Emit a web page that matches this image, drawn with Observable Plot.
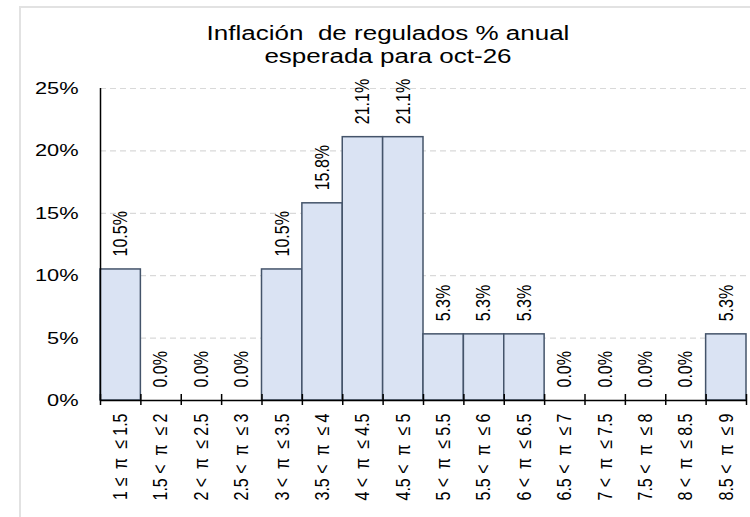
<!DOCTYPE html>
<html>
<head>
<meta charset="utf-8">
<script src="https://cdn.jsdelivr.net/npm/d3@7"></script>
<script src="https://cdn.jsdelivr.net/npm/@observablehq/plot@0.6"></script>
<style>
  html, body { margin: 0; padding: 0; background: #fff; overflow: hidden; }
  #wrap { position: relative; width: 750px; height: 517px; font-family: "Liberation Sans", Arial, sans-serif; }
  #frame { position: absolute; left: 19px; top: 6px; width: 800px; height: 600px;
           border-top: 2px solid #e2e2e2; border-left: 2px solid #e2e2e2; pointer-events: none; }
  #title { position: absolute; left: 0; top: 22px; width: 776px; text-align: center;
           font-size: 20px; line-height: 23px; color: #000; transform: scaleX(1.3); transform-origin: 388px 0; }
  svg text { white-space: pre; }
</style>
</head>
<body>
<div id="wrap">
  <div id="chart"></div>
  <div id="frame"></div>
  <div id="title">Inflación&nbsp; de regulados % anual<br>esperada para oct-26</div>
</div>
<script>
const categories = ["1 ≤  π  ≤ 1.5", "1.5 <  π  ≤ 2", "2 <  π  ≤ 2.5", "2.5 <  π  ≤ 3",
  "3 <  π  ≤ 3.5", "3.5 <  π  ≤ 4", "4 <  π  ≤ 4.5", "4.5 <  π  ≤ 5",
  "5 <  π  ≤ 5.5", "5.5 <  π  ≤ 6", "6 <  π  ≤ 6.5", "6.5 <  π  ≤ 7",
  "7 <  π  ≤ 7.5", "7.5 <  π  ≤ 8", "8 <  π  ≤ 8.5", "8.5 <  π  ≤ 9"];
const values = [10.5, 0, 0, 0, 10.5, 15.8, 21.1, 21.1, 5.3, 5.3, 5.3, 0, 0, 0, 0, 5.3];
const yTicks = [0, 5, 10, 15, 20, 25];

const data = categories.map((c, i) => ({cat: c, i, value: values[i]}));
const boundaries = d3.range(categories.length + 1);

const chart = Plot.plot({
  width: 750,
  height: 517,
  marginLeft: 100,
  marginRight: 4,
  marginTop: 88,
  marginBottom: 117,
  style: {fontFamily: '"Liberation Sans", Arial, sans-serif', background: "transparent", color: "#000"},
  x: {domain: [0, categories.length], axis: null},
  y: {domain: [0, 25], axis: null},
  marks: [
    Plot.gridY(yTicks, {stroke: "#d9d9d9", strokeOpacity: 1, strokeDasharray: "6,4", strokeWidth: 1.2}),
    Plot.axisY(yTicks, {tickSize: 0, tickPadding: 22, tickFormat: d => d + "%", fontSize: 17, label: null}),
    Plot.rect(data.filter(d => d.value > 0), {
      x1: "i", x2: d => d.i + 1, y1: 0, y2: "value",
      fill: "#dae3f3", stroke: "#44546a", strokeWidth: 1.5
    }),
    Plot.ruleX([0], {stroke: "#000", strokeWidth: 1.5}),
    Plot.ruleY([0], {stroke: "#000", strokeWidth: 1.5}),
    Plot.ruleX(boundaries, {y1: 0, y2: 0, insetTop: -6, insetBottom: -5, stroke: "#000", strokeWidth: 1.5}),
    Plot.text(data, {
      x: d => d.i + 0.5, y: "value", text: d => d.value.toFixed(1) + "%",
      rotate: -90, textAnchor: "start", dy: -13, fontSize: 16, fill: "#000"
    }),
    Plot.text(data, {
      x: d => d.i + 0.5, y: () => 0, text: "cat",
      rotate: -90, textAnchor: "end", dy: 13, fontSize: 16, fill: "#000"
    })
  ]
});
document.getElementById("chart").appendChild(chart);

// Widen y tick labels to match the reference's horizontally stretched lettering
chart.querySelectorAll('g[aria-label="y-axis tick label"] text').forEach(t => {
  const len = t.getComputedTextLength();
  t.setAttribute("textLength", (len * 1.28).toFixed(1));
  t.setAttribute("lengthAdjust", "spacingAndGlyphs");
});
// Thicken rotated glyphs the same way (local y axis maps to screen x after rotation)
chart.querySelectorAll('g[aria-label="text"] text').forEach(t => {
  const tr = t.getAttribute("transform");
  if (tr && tr.includes("rotate")) t.setAttribute("transform", tr + " scale(1,1.25)");
});
</script>
</body>
</html>
